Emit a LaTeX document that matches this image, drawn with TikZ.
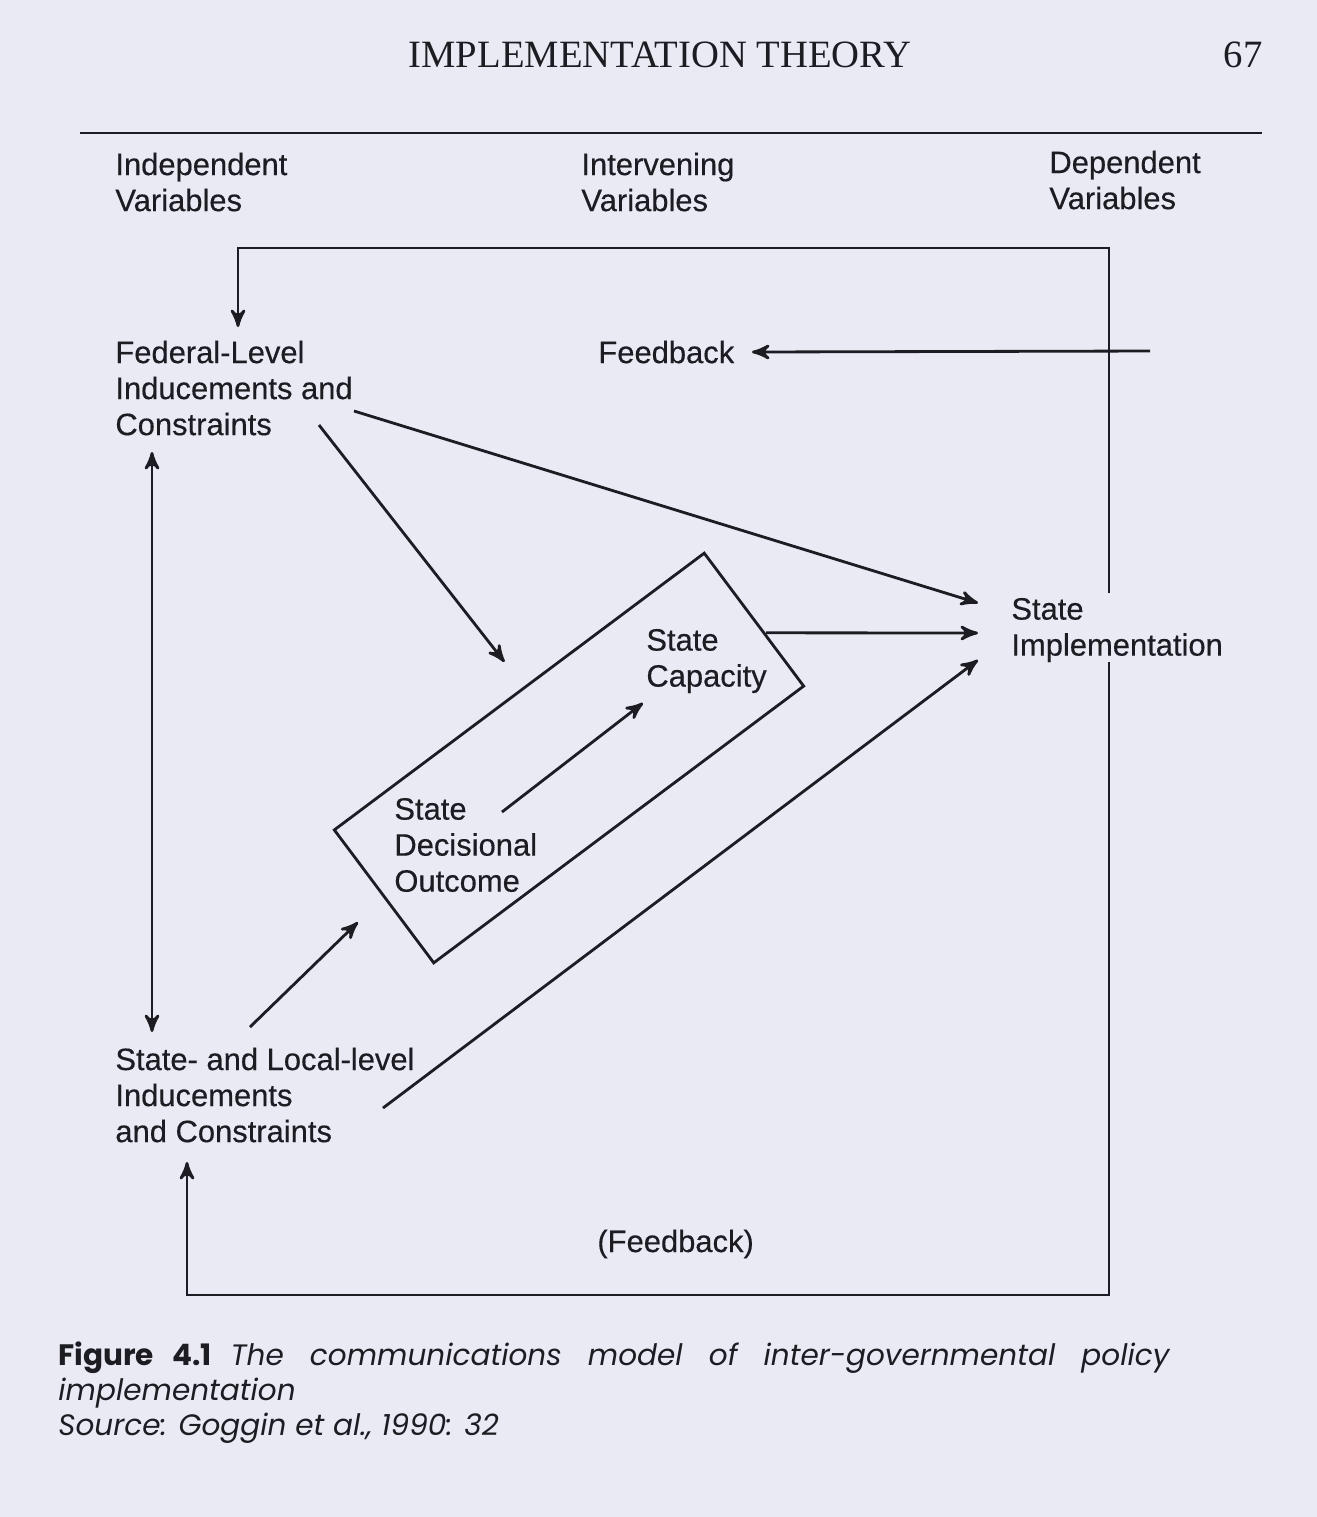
\documentclass[tikz,border=0pt]{standalone}
\usepackage{fontspec}
\setmainfont{Liberation Serif}
\setsansfont{Liberation Sans}
\newfontfamily\diagfont{Liberation Sans}[FakeBold=0.35]
\newfontfamily\capfont{Poppins}
\usetikzlibrary{arrows}
\definecolor{paper}{RGB}{233,234,243}
\definecolor{ink}{RGB}{28,28,34}

\begin{document}
\begin{tikzpicture}[->,>=stealth',color=ink,line width=0.8pt,
        txt/.style={font=\diagfont\fontsize{8.8}{10.25}\selectfont,align=left,inner sep=0pt,anchor=west},
        captxt/.style={font=\capfont\fontsize{8.4}{10}\selectfont,inner sep=0pt,anchor=west}]
            \fill[paper](0,0)rectangle(13.17,-15.17);
            \useasboundingbox(0,0)rectangle(13.17,-15.17);
            % running head and rule
            \node[font=\rmfamily\fontsize{11}{13}\selectfont](Head)at(6.60,-0.55){IMPLEMENTATION THEORY};
            \node[font=\rmfamily\fontsize{11}{13}\selectfont](Page)at(12.43,-0.55){67};
            \coordinate(RuleL)at(0.80,-1.33);
            \coordinate(RuleR)at(12.62,-1.33);
            \draw[-](RuleL)--(RuleR);
            % column heads
            \node[txt](Indep)at(1.14,-1.82){Independent\\Variables};
            \node[txt](Interv)at(5.80,-1.82){Intervening\\Variables};
            \node[txt](Dep)at(10.48,-1.80){Dependent\\Variables};
            % variables
            \node[txt](Fed)at(1.14,-3.88){Federal-Level\\Inducements and\\Constraints};
            \node[txt](Loc)at(1.14,-10.95){State- and Local-level\\Inducements\\and Constraints};
            \node[txt](Fb)at(5.97,-3.52){Feedback};
            \node[txt](Fb2)at(5.96,-12.44){(Feedback)};
            \node[txt](Dec)at(3.93,-8.45){State\\Decisional\\Outcome};
            \node[txt](Cap)at(6.45,-6.61){State\\Capacity};
            \node[txt](Impl)at(10.10,-6.30){State\\Implementation};
            \node[draw,rotate=36.8,minimum width=4.62cm,minimum height=1.66cm](Frame)at(5.69,-7.58){};
            \coordinate(FbSrc)at(11.50,-3.51);
            % connectors
            \draw([shift={(2.40,-0.23)}]Fed.west)--([shift={(-0.32,0.27)}]Impl.west);
            \draw([shift={(2.05,-0.37)}]Fed.west)--([shift={(-0.14,0.285)}]Frame.north);
            \draw[<->]([shift={(0.38,-0.64)}]Fed.west)--([shift={(0.38,0.63)}]Loc.west);
            \draw([shift={(1.36,0.68)}]Loc.west)--([shift={(-0.25,-0.25)}]Frame.west);
            \draw([shift={(2.69,-0.13)}]Loc.west)--([shift={(-0.32,-0.30)}]Impl.west);
            \draw([shift={(1.09,0.33)}]Dec.west)--([shift={(-0.02,-0.42)}]Cap.west);
            \draw([shift={(0.11,-0.14)}]Frame.east)--([shift={(-0.32,-0.03)}]Impl.west);
            \draw(FbSrc)--([shift={(1.55,0)}]Fb.west);
            % feedback loops
            \draw([shift={(0.99,0.37)}]Impl.west)--++(0,3.45)-|([shift={(1.24,0.61)}]Fed.west);
            \draw([shift={(0.99,-0.32)}]Impl.west)--++(0,-6.33)-|([shift={(0.73,-0.67)}]Loc.west);
            % caption
            \node[captxt](Cap1)at(0.57,-13.58){\makebox[11.11cm][s]{\bfseries Figure 4.1 \mdseries\itshape The communications model of inter-governmental policy}};
            \node[captxt](Cap2)at(0.57,-13.93){\itshape implementation};
            \node[captxt](Cap3)at(0.57,-14.28){\itshape Source: Goggin et al., 1990: 32};
        \end{tikzpicture}
\end{document}
